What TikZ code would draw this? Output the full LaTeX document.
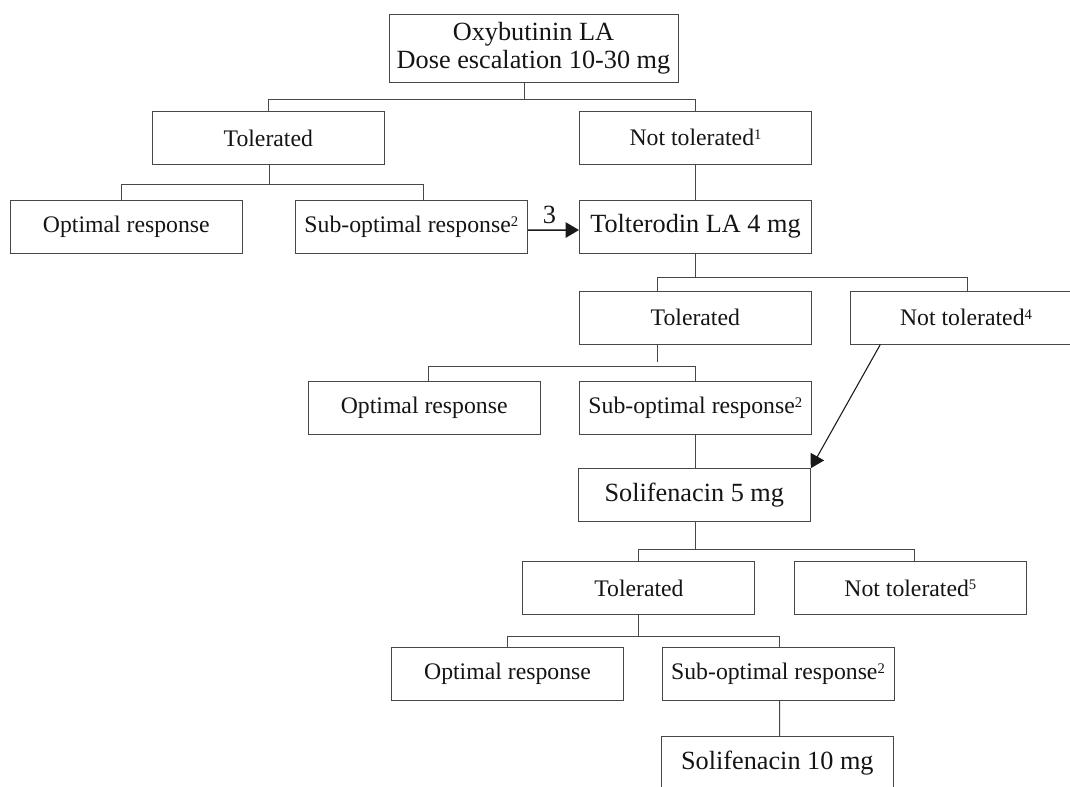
\documentclass[tikz,border=0pt]{standalone}
\usepackage{fontspec}
\setmainfont{Liberation Serif}
\usetikzlibrary{arrows.meta,calc}
\newcommand{\supnum}[1]{\raisebox{4.6pt}{\fontsize{11}{11}\selectfont #1}}
\begin{document}
\begin{tikzpicture}[x=0.75pt,y=-0.75pt,
  box/.style={draw=black!72, line width=0.75pt, minimum width=174pt, minimum height=39.75pt,
    inner sep=0pt, text=black!92, font=\fontsize{17.8}{20}\selectfont},
  bigbox/.style={box, font=\fontsize{19.7}{21}\selectfont},
  link/.style={draw=black!72, line width=0.75pt},
  arr/.style={draw=black!90, line width=0.8pt, -{Triangle[length=10pt,width=11.5pt]}},
]
\useasboundingbox (0,0) rectangle (1070,786);
\clip (0,0) rectangle (1070,786);

% nodes
\node[bigbox, minimum width=216.75pt, minimum height=51pt, align=center] (top) at (533.5,48)
  {Oxybutinin LA\\Dose escalation 10-30 mg};
\node[box] (tol1) at (268.3,138.2) {Tolerated};
\node[box] (nt1) at (695.5,137.5) {Not tolerated\supnum{1}};
\node[box] (opt1) at (126.3,226.8) {Optimal response};
\node[box] (sub1) at (411.3,226.8) {Sub-optimal response\supnum{2}};
\node[bigbox] (tolt) at (695.5,226.7) {Tolterodin LA 4 mg};
\node[box] (tol2) at (695.3,317.7) {Tolerated};
\node[box] (nt4) at (966,317.7) {Not tolerated\supnum{4}};
\node[box] (opt2) at (424.2,408.2) {Optimal response};
\node[box] (sub2) at (695.3,407.7) {Sub-optimal response\supnum{2}};
\node[bigbox] (sol5) at (694.3,495.2) {Solifenacin 5 mg};
\node[box] (tol3) at (638.9,588) {Tolerated};
\node[box] (nt5) at (910.3,588) {Not tolerated\supnum{5}};
\node[box] (opt3) at (507.5,673.7) {Optimal response};
\node[box] (sub3) at (778,673.7) {Sub-optimal response\supnum{2}};
\node[bigbox] (sol10) at (777.3,763.3) {Solifenacin 10 mg};

% level 1
\draw[link] ($(top.south)+(-9.5,0)$) -- ++(0,17.3) coordinate (b1);
\draw[link] (tol1.north) |- (b1) -| (nt1.north);
% tolerated 1
\draw[link] ($(tol1.south)+(1,0)$) -- ++(0,19) coordinate (b2);
\draw[link] ($(opt1.north)+(-5,0)$) |- (b2) -| ($(sub1.north)+(11.7,0)$);
% not tolerated 1 -> tolterodin
\draw[link] (nt1.south) -- (tolt.north);
% sub-optimal -> tolterodin
\draw[arr, line width=1.1pt] ($(sub1.east)+(0,3.3)$) -- ($(tolt.west)+(0,3.3)$)
  node[midway, above, inner sep=4pt, xshift=-3pt, text=black!92, font=\fontsize{19.7}{20.5}\selectfont] (lab3) {3};
% tolterodin
\draw[link] (tolt.south) -- ++(0,24) coordinate (b3);
\draw[link] ($(tol2.north)+(-38,0)$) |- (b3) -| ($(nt4.north)+(1,0)$);
% tolerated 2
\draw[link] ($(tol2.south)+(-38,0)$) -- ++(0,17.3);
\coordinate (b4) at ($(tol2.south)+(-38,22)$);
\draw[link] ($(opt2.north)+(4.5,0)$) |- (b4) -| (sub2.north);
% sub-optimal 2 -> solifenacin 5
\draw[link] (sub2.south) -- (sub2.south |- sol5.north);
% not tolerated 4 -> solifenacin 5
\draw[arr] ($(nt4.south west)+(30.7,0)$) -- (sol5.north east);
% solifenacin 5
\draw[link] ($(sol5.south)+(1,0)$) -- ++(0,27) coordinate (b5);
\draw[link] (tol3.north) |- (b5) -| ($(nt5.north)+(3.7,0)$);
% tolerated 3
\draw[link] (tol3.south) -- ++(0,21.3) coordinate (b6);
\draw[link] (opt3.north) |- (b6) -| ($(sub3.north)+(1.7,0)$);
% sub-optimal 3 -> solifenacin 10
\draw[link] ($(sub3.south)+(1.7,0)$) -- ($(sol10.north)+(2.4,0)$);
\end{tikzpicture}
\end{document}
